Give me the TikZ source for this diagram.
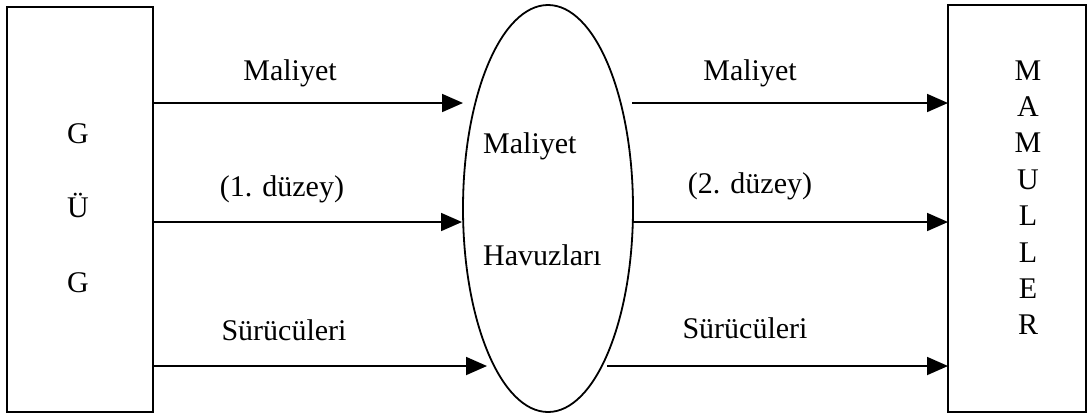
\documentclass[tikz,border=0pt]{standalone}
\usepackage{fontspec}
\setmainfont{Liberation Serif}
\usetikzlibrary{shapes.geometric,arrows.meta}
\begin{document}
\begin{tikzpicture}[x=1pt,y=-1pt,
  box/.style={draw,line width=1.8pt,minimum width=#1,inner sep=0pt,outer sep=0pt},
  arr/.style={line width=1.8pt,-{Triangle[length=21pt,width=18pt]}},
  lbl/.style={anchor=base,inner sep=0pt,font=\fontsize{30}{35}\selectfont},
  every node/.append style={font=\fontsize{30}{35}\selectfont}]
\useasboundingbox (0,0) rectangle (1091,416);
% boxes
\node[box=146pt,minimum height=405pt] (L) at (80,209.5) {};
\node[box=138pt,minimum height=407pt] (R) at (1017,208.5) {};
\node[draw,ellipse,line width=1.8pt,minimum width=170pt,minimum height=407pt,inner sep=0pt,outer sep=0pt] (E) at (548,208.5) {};
% texts in left box
\node[lbl] (g1) at (78,143) {G};
\node[lbl] (g2) at (78,217) {Ü};
\node[lbl] (g3) at (78,292) {G};
% texts in right box
\foreach \c [count=\i] in {M,A,M,U,L,L,E,R}
  \node[lbl] (m\i) at (1028,{80+36.4*(\i-1)}) {\c};
% ellipse texts
\node[lbl,anchor=base west] (e1) at (483,153) {Maliyet};
\node[lbl,anchor=base west] (e2) at (483,265) {Havuzları};
% arrow endpoints
\coordinate (t1) at (463,103);
\coordinate (t2) at (462,222);
\coordinate (t3) at (487,366);
\coordinate (s1) at (632,103);
\coordinate (s2) at (633,222);
\coordinate (s3) at (607,366);
\draw[arr] (L.east|-t1) -- (t1);
\draw[arr] (L.east|-t2) -- (t2);
\draw[arr] (L.east|-t3) -- (t3);
\draw[arr] (s1) -- (R.west|-s1);
\draw[arr] (s2) -- (R.west|-s2);
\draw[arr] (s3) -- (R.west|-s3);
% labels
\node[lbl] (a1) at (290,80) {Maliyet};
\node[lbl] (a2) at (282,196) {(1. düzey)};
\node[lbl] (a3) at (284,340) {Sürücüleri};
\node[lbl] (b1) at (750,80) {Maliyet};
\node[lbl] (b2) at (750,193) {(2. düzey)};
\node[lbl] (b3) at (745,338) {Sürücüleri};
\end{tikzpicture}
\end{document}
